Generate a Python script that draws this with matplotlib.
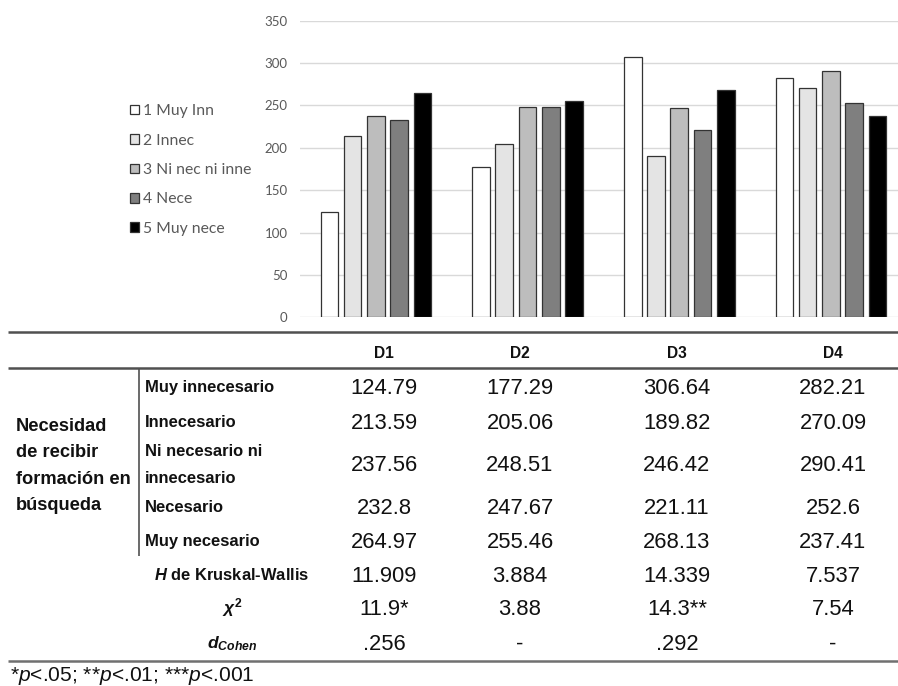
import matplotlib.pyplot as plt
import numpy as np

plt.rcParams["mathtext.fontset"] = "custom"
plt.rcParams["mathtext.it"] = "Liberation Sans:italic:bold"
plt.rcParams["mathtext.rm"] = "Liberation Sans:bold"
plt.rcParams["mathtext.sf"] = "Liberation Sans:italic"  # plain italic, used for the footnote p

# data
categories = ["D1", "D2", "D3", "D4"]
series_labels = ["1 Muy Inn", "2 Innec", "3 Ni nec ni inne", "4 Nece", "5 Muy nece"]
row_labels = ["Muy innecesario", "Innecesario", "Ni necesario ni\ninnecesario",
              "Necesario", "Muy necesario"]
muy_innecesario = [124.79, 177.29, 306.64, 282.21]
innecesario = [213.59, 205.06, 189.82, 270.09]
ni_nec_ni_innec = [237.56, 248.51, 246.42, 290.41]
necesario = [232.8, 247.67, 221.11, 252.6]
muy_necesario = [264.97, 255.46, 268.13, 237.41]
kruskal_h = [11.909, 3.884, 14.339, 7.537]
chi2 = ["11.9*", "3.88", "14.3**", "7.54"]
d_cohen = [".256", "-", ".292", "-"]
group_label = "Necesidad\nde recibir\nformación en\nbúsqueda"
stat_labels = [r"$H$ de Kruskal-Wallis", r"$\chi^\mathrm{2}$", r"$d_{Cohen}$"]
footnote = r"*$\mathsf{p}$<.05; **$\mathsf{p}$<.01; ***$\mathsf{p}$<.001"

levels = [muy_innecesario, innecesario, ni_nec_ni_innec, necesario, muy_necesario]
bar_colors = ["#ffffff", "#e4e4e4", "#bdbdbd", "#7f7f7f", "#000000"]

W, H = 898, 686
fig = plt.figure(figsize=(W / 100, H / 100), dpi=100)


def fx(px):
    return px / W


def fy(py):
    return 1 - py / H


# ---- bar chart (right edge is cut by the figure border, as in the source)
y0, y350 = 317.3, 20.7
ax = fig.add_axes([fx(300), fy(y0), 606.8 / W, (y0 - y350) / H])
x = np.arange(len(categories))
pitch, width = 0.1533, 0.116
bars = []
for i, vals in enumerate(levels):
    b = ax.bar(x + (i - 2) * pitch, vals, width, color=bar_colors[i],
               edgecolor="#333333", linewidth=0.9, label=series_labels[i], zorder=3)
    bars.append(b)

ax.set_xlim(-0.5, len(categories) - 0.5)
ax.set_ylim(0, 350)
ax.set_yticks(np.arange(0, 351, 50))
ax.set_xticks([])
ax.yaxis.grid(True, color="#d9d9d9", linewidth=1)
ax.set_axisbelow(True)
for s in ax.spines.values():
    s.set_visible(False)
ax.tick_params(axis="y", length=0, pad=9, labelsize=9.5, labelcolor="#595959")
for t in ax.get_yticklabels():
    t.set_fontfamily("Lato")

fig.legend(handles=bars, labels=series_labels, loc="center left",
           bbox_to_anchor=(fx(130), fy(170)), frameon=False, borderpad=0,
           borderaxespad=0, handlelength=0.55, handleheight=0.55,
           handletextpad=0.25, labelspacing=0.98, labelcolor="#595959",
           prop=dict(family="Lato", size=11.3))

# ---- table, drawn in pixel coordinates
tab = fig.add_axes([0, 0, 1, 1], zorder=-1)
tab.set_xlim(0, W)
tab.set_ylim(H, 0)
tab.axis("off")

FONT = "Liberation Sans"


def put(x, y, s, px, ha="center", weight="normal", gap=None):
    # y is the visual middle of the capitals; several lines are spread by gap
    lines = s.split("\n")
    n = len(lines)
    for k, line in enumerate(lines):
        yy = y + (k - (n - 1) / 2) * (gap or px * 1.6)
        tab.text(x, yy + 0.36 * px, line, ha=ha, va="baseline", fontsize=px * 0.72,
                 fontfamily=FONT, fontweight=weight, color="#111111")


col_x = [384, 520, 677, 833]
header_y = 352
row_y = [386, 421, 463.5, 506, 540]
stat_y = [574, 607, 642]

tab.hlines([332, 368], 8, W, color="#505050", linewidth=1.8)
tab.hlines(661, 8, W, color="#707070", linewidth=1.8)
tab.vlines(139, 368, 556, color="#505050", linewidth=1.2)

for cx, c in zip(col_x, categories):
    put(cx, header_y, c, 15.5, weight="bold")

put(16, 463.7, group_label, 18.3, ha="left", weight="bold", gap=26.5)

for ry, lab, k in zip(row_y, row_labels, range(len(row_labels))):
    put(145, ry, lab, 16.5, ha="left", weight="bold", gap=27)
    for cx, v in zip(col_x, levels[k]):
        put(cx, ry, str(v), 22)

stat_rows = [[str(v) for v in kruskal_h], chi2, d_cohen]
stat_px = [16.5, 17.5, 17.5]
for sy, lab, vals, spx in zip(stat_y, stat_labels, stat_rows, stat_px):
    put(232, sy, lab, spx, weight="bold")
    for cx, v in zip(col_x, vals):
        put(cx, sy, v, 22)

put(10, 673.5, footnote, 21, ha="left")

fig.savefig("out.png", dpi=100)
